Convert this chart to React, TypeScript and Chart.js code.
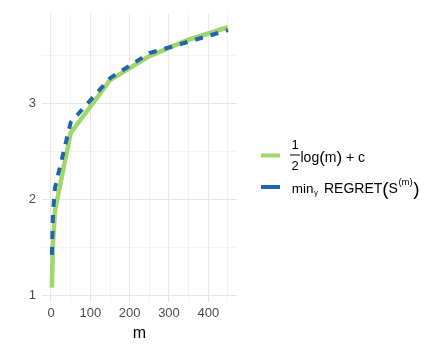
import React, { useEffect, useRef } from 'react';
import { Chart, registerables } from 'chart.js';

Chart.register(...registerables);

const M_VALUES = [2, 5, 10, 50, 150, 250, 350, 450];
const LOG_CURVE = [1.08, 1.54, 1.88, 2.69, 3.24, 3.49, 3.66, 3.79];
const MIN_REGRET = [1.42, 1.86, 2.12, 2.8, 3.26, 3.52, 3.64, 3.76];
const X_TICKS = [0, 50, 100, 150, 200, 250, 300, 350, 400, 450];
const X_LABELED = [0, 100, 200, 300, 400];
const Y_TICKS = [1, 1.5, 2, 2.5, 3, 3.5];
const Y_LABELED = [1, 2, 3];
const X_TITLE = 'm';

const GREEN = '#a1d76a';
const BLUE = '#2166ac';
const FONT = "'Liberation Sans', Arial, sans-serif";
const MAJOR_GRID = '#e6e6e6';
const MINOR_GRID = '#f0f0f0';

const legendPlugin = {
  id: 'mathLegend',
  afterDraw(chart: any) {
    const ctx = chart.ctx as CanvasRenderingContext2D;
    ctx.save();
    // keys
    ctx.lineCap = 'butt';
    ctx.lineWidth = 4;
    ctx.strokeStyle = GREEN;
    ctx.beginPath();
    ctx.moveTo(261, 155.5);
    ctx.lineTo(280, 155.5);
    ctx.stroke();
    ctx.strokeStyle = BLUE;
    ctx.beginPath();
    ctx.moveTo(261, 187);
    ctx.lineTo(280, 187);
    ctx.stroke();

    ctx.fillStyle = '#000000';
    ctx.textBaseline = 'alphabetic';
    // first label: fraction 1/2 log(m) + c
    ctx.font = `13px ${FONT}`;
    ctx.textAlign = 'center';
    ctx.fillText('1', 295, 148.5);
    ctx.fillText('2', 295, 170);
    ctx.fillRect(290, 154.5, 10, 1);
    ctx.textAlign = 'left';
    let x = 300.5;
    const base1 = 161.5;
    ctx.font = `14px ${FONT}`;
    ctx.fillText('log', x, base1);
    x += ctx.measureText('log').width;
    ctx.font = `17px ${FONT}`;
    ctx.fillText('(', x, base1 + 1);
    x += ctx.measureText('(').width;
    ctx.font = `14px ${FONT}`;
    ctx.fillText('m', x, base1);
    x += ctx.measureText('m').width;
    ctx.font = `17px ${FONT}`;
    ctx.fillText(')', x, base1 + 1);
    x += ctx.measureText(')').width;
    ctx.font = `14px ${FONT}`;
    ctx.fillText(' + c', x, base1);

    // second label: min_gamma REGRET(S^(m))
    const base2 = 192.7;
    x = 291.7;
    ctx.font = `13.5px ${FONT}`;
    ctx.fillText('min', x, base2);
    x += ctx.measureText('min').width + 0.5;
    ctx.font = `8px ${FONT}`;
    ctx.fillText('γ', x, base2 + 2.5);
    x += ctx.measureText('γ').width;
    x = Math.max(x + 6, 323.3);
    ctx.font = `14px ${FONT}`;
    ctx.fillText('REGRET', x, base2);
    x += ctx.measureText('REGRET').width;
    ctx.font = `19px ${FONT}`;
    ctx.fillText('(', x, base2 + 2);
    x += ctx.measureText('(').width;
    ctx.font = `14px ${FONT}`;
    ctx.fillText('S', x, base2);
    x += ctx.measureText('S').width + 0.5;
    ctx.font = `9.5px ${FONT}`;
    ctx.fillText('(m)', x, base2 - 8);
    x += ctx.measureText('(m)').width + 0.5;
    ctx.font = `19px ${FONT}`;
    ctx.fillText(')', x, base2 + 2);
    ctx.restore();
  },
};

export default function App() {
  const canvasRef = useRef<HTMLCanvasElement | null>(null);

  useEffect(() => {
    const canvas = canvasRef.current;
    if (!canvas) return;
    Chart.defaults.font.family = FONT;
    const chart = new Chart(canvas, {
      type: 'line',
      data: {
        datasets: [
          {
            label: 'min REGRET',
            data: M_VALUES.map((m, i) => ({ x: m, y: MIN_REGRET[i] })),
            borderColor: BLUE,
            borderWidth: 4,
            borderDash: [8, 8],
            borderCapStyle: 'butt',
            pointRadius: 0,
            fill: false,
            tension: 0,
            order: 0,
          },
          {
            label: '1/2 log(m) + c',
            data: M_VALUES.map((m, i) => ({ x: m, y: LOG_CURVE[i] })),
            borderColor: GREEN,
            borderWidth: 4.5,
            borderCapStyle: 'butt',
            pointRadius: 0,
            fill: false,
            tension: 0,
            order: 1,
          },
        ],
      },
      options: {
        responsive: false,
        animation: false,
        devicePixelRatio: 1,
        layout: { padding: { left: 0, right: 203, top: 7, bottom: 0 } },
        plugins: {
          legend: { display: false },
          tooltip: { enabled: false },
        },
        scales: {
          x: {
            type: 'linear',
            min: -23,
            max: 473,
            border: { display: false },
            grid: {
              drawTicks: false,
              color: (c: any) => (c.tick && X_LABELED.includes(c.tick.value) ? MAJOR_GRID : MINOR_GRID),
              lineWidth: (c: any) => (c.tick && X_LABELED.includes(c.tick.value) ? 1.1 : 0.8),
            },
            afterBuildTicks: (scale: any) => {
              scale.ticks = X_TICKS.map((v) => ({ value: v }));
            },
            afterFit: (scale: any) => {
              scale.height = 48;
            },
            ticks: {
              autoSkip: false,
              maxRotation: 0,
              padding: 4,
              color: '#4d4d4d',
              font: { size: 13, family: FONT },
              callback: (v: any) => (X_LABELED.includes(Number(v)) ? String(v) : ''),
            },
            title: {
              display: true,
              text: X_TITLE,
              color: '#000000',
              font: { size: 16, family: FONT },
              padding: { top: 0, bottom: 7 },
            },
          },
          y: {
            type: 'linear',
            min: 0.93,
            max: 3.93,
            border: { display: false },
            grid: {
              drawTicks: false,
              color: (c: any) => (c.tick && Y_LABELED.includes(c.tick.value) ? MAJOR_GRID : MINOR_GRID),
              lineWidth: (c: any) => (c.tick && Y_LABELED.includes(c.tick.value) ? 1.1 : 0.8),
            },
            afterBuildTicks: (scale: any) => {
              scale.ticks = Y_TICKS.map((v) => ({ value: v }));
            },
            afterFit: (scale: any) => {
              scale.width = 42;
            },
            ticks: {
              autoSkip: false,
              padding: 6,
              color: '#4d4d4d',
              font: { size: 13, family: FONT },
              callback: (v: any) => (Y_LABELED.includes(Number(v)) ? String(v) : ''),
            },
          },
        },
      },
      plugins: [legendPlugin],
    } as any);
    return () => chart.destroy();
  }, []);

  return (
    <div style={{ position: 'fixed', left: 0, top: 0, width: 440, height: 350, background: '#ffffff' }}>
      <canvas ref={canvasRef} width={440} height={350} style={{ display: 'block', width: 440, height: 350 }} />
    </div>
  );
}
